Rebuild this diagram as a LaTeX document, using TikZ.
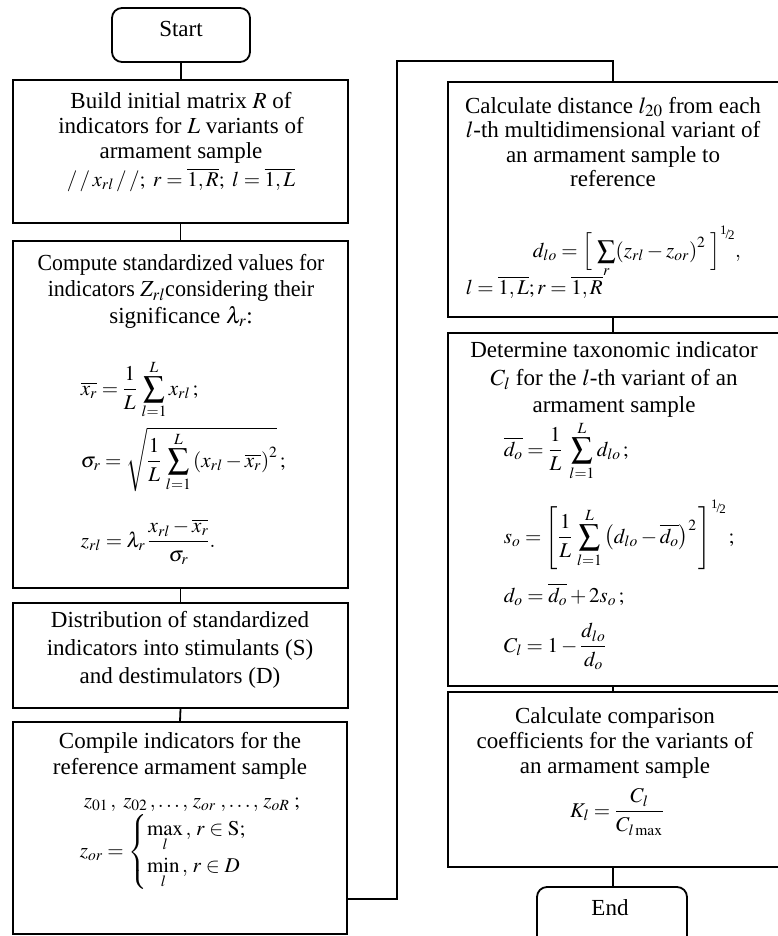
\documentclass[tikz,border=0pt]{standalone}
\usepackage{amsmath}
\usepackage{mathptmx}
\usepackage[no-math]{fontspec}
\setmainfont{Liberation Serif}
\newcommand\halfexp{\mbox{\fontsize{13}{13}\selectfont\raisebox{4pt}{1}\kern-1pt/\kern-1pt\raisebox{-1pt}{2}}}
\newcommand\msum{\mathop{\vcenter{\hbox{\scalebox{1.45}{$\sum$}}}}\limits}
\newcommand\ssum{\mathop{\vcenter{\hbox{\scalebox{1.25}{$\sum$}}}}\limits}
\begin{document}
\begin{tikzpicture}[x=1pt,y=-1pt,line width=1.8pt,
  box/.style={draw,rectangle,inner sep=0pt},
  term/.style={draw,rectangle,rounded corners=10pt,inner sep=0pt},
  txt/.style={align=center,inner sep=0pt,anchor=north,font=\fontsize{23}{25}\selectfont},
  fml/.style={inner sep=0pt,font=\fontsize{21}{24}\selectfont}]
\useasboundingbox (0,0) rectangle (778,936);
\clip (0,0) rectangle (778,936);

% ---- left column ----
\node[term,minimum width=138pt,minimum height=54pt] (start) at (181,35) {};
\node[txt,anchor=base] (tstart) at (181,37) {Start};

\node[box,minimum width=335pt,minimum height=143pt] (b1) at (180.5,151.5) {};
\node[txt] (t1) at (181,91) {Build initial matrix $R$ of\\indicators for $L$ variants of\\armament sample};
\node[fml,anchor=base] (f1) at (181,186) {$/\,/\,x_{rl}\,/\,/;\ r=\overline{1,R};\ l=\overline{1,L}$};

\node[box,minimum width=335pt,minimum height=347pt] (b2) at (180.5,414.5) {};
\node[txt,font=\fontsize{23}{26.5}\selectfont] (t2) at (181,253) {\scalebox{0.945}[1]{Compute standardized values for}\\\scalebox{0.96}[1]{indicators $Z_{rl}$considering their}\\significance $\lambda_r$:};
\node[fml,anchor=base west] (f2a) at (80,395) {$\displaystyle \overline{x_r}=\frac{1}{L}\,\msum_{l=1}^{L}x_{rl}\,;$};
\node[fml,anchor=base west] (f2b) at (80,467) {$\displaystyle \sigma_r=\sqrt{\frac{1}{L}\,\msum_{l=1}^{L}\left(x_{rl}-\overline{x_r}\right)^2}\,;$};
\node[fml,anchor=base west] (f2c) at (80,547) {$\displaystyle z_{rl}=\lambda_r\,\frac{x_{rl}-\overline{x_r}}{\sigma_r}.$};

\node[box,minimum width=335pt,minimum height=105pt] (b3) at (180.5,655.5) {};
\node[txt,font=\fontsize{23}{28}\selectfont] (t3) at (180,610) {Distribution of standardized\\indicators into stimulants (S)\\and destimulators (D)};

\node[box,minimum width=334pt,minimum height=212pt] (b4) at (180,828) {};
\node[txt,font=\fontsize{23}{26}\selectfont] (t4) at (180,731) {Compile indicators for the\\reference armament sample};
\node[fml,anchor=base west] (f4a) at (83,807) {$z_{01}\,,\; z_{02}\,,\ldots,\,z_{or}\;,\ldots,\,z_{oR}\;;$};
\node[fml,anchor=west] (f4b) at (79,852) {$z_{or}=\begin{cases}\max\limits_{l}\,,\,r\in\mathrm{S};\\[6pt] \min\limits_{l}\,,\,r\in D\end{cases}$};

% ---- right column ----
\coordinate (rx) at (613,0);
\coordinate (c1) at (397,899);
\coordinate (c2) at (397,61);

\node[box,minimum width=342pt,minimum height=235pt] (r1) at (619,199.5) {};
\node[txt,font=\fontsize{23}{24.5}\selectfont] (tr1) at (613,96) {Calculate distance $l_{20}$ from each\\$l$-th multidimensional variant of\\an armament sample to\\reference};
\node[fml,anchor=base west] (f5a) at (532,257) {$\displaystyle d_{lo}=\Bigl[\;\ssum_{r}\!\left(z_{rl}-z_{or}\right)^2\;\Bigr]^{\halfexp},$};
\node[fml,anchor=base west] (f5b) at (465,294) {$l=\overline{1,L};r=\overline{1,R}$};

\node[box,minimum width=342pt,minimum height=353pt] (r2) at (619,509.5) {};
\node[txt,font=\fontsize{23}{27.5}\selectfont] (tr2) at (614,341) {Determine taxonomic indicator\\$C_l$ for the $l$-th variant of an\\armament sample};
\node[fml,anchor=base west] (f6a) at (503,456) {$\displaystyle \overline{d_o}=\frac{1}{L}\;\msum_{l=1}^{L}d_{lo}\,;$};
\node[fml,anchor=base west] (f6b) at (503,543) {$\displaystyle s_o=\left[\frac{1}{L}\,\msum_{l=1}^{L}\left(d_{lo}-\overline{d_o}\right)^2\,\right]^{\halfexp};$};
\node[fml,anchor=base west] (f6c) at (503,602) {$d_o=\overline{d_o}+2s_o\,;$};
\node[fml,anchor=base west] (f6d) at (503,652) {$\displaystyle C_l=1-\frac{d_{lo}}{d_o}$};

\node[box,minimum width=342pt,minimum height=175pt] (r3) at (619,779.5) {};
\node[txt] (tr3) at (615,707) {Calculate comparison\\coefficients for the variants of\\an armament sample};
\node[fml] (f7) at (617,812) {$\displaystyle K_l=\frac{C_l}{C_{l\,\mathrm{max}}}$};

\node[term,minimum width=150pt,minimum height=68pt] (end) at (612,921) {};
\node[txt,anchor=base] (tend) at (610,915) {End};

% ---- connectors ----
\draw (start) -- (b1.north -| start);
\draw (b1.south) -- (b2.north);
\draw (b2.south) -- (b3.north);
\draw (b3.south) -- (b4.north);
\draw (b4.east |- c1) -- (c1) -- (c2) -| (r1.north -| rx);
\draw (r1.south -| rx) -- (r2.north -| rx);
\draw (r2.south -| rx) -- (r3.north -| rx);
\draw (r3.south -| rx) -- (end.north -| rx);
\end{tikzpicture}
\end{document}
